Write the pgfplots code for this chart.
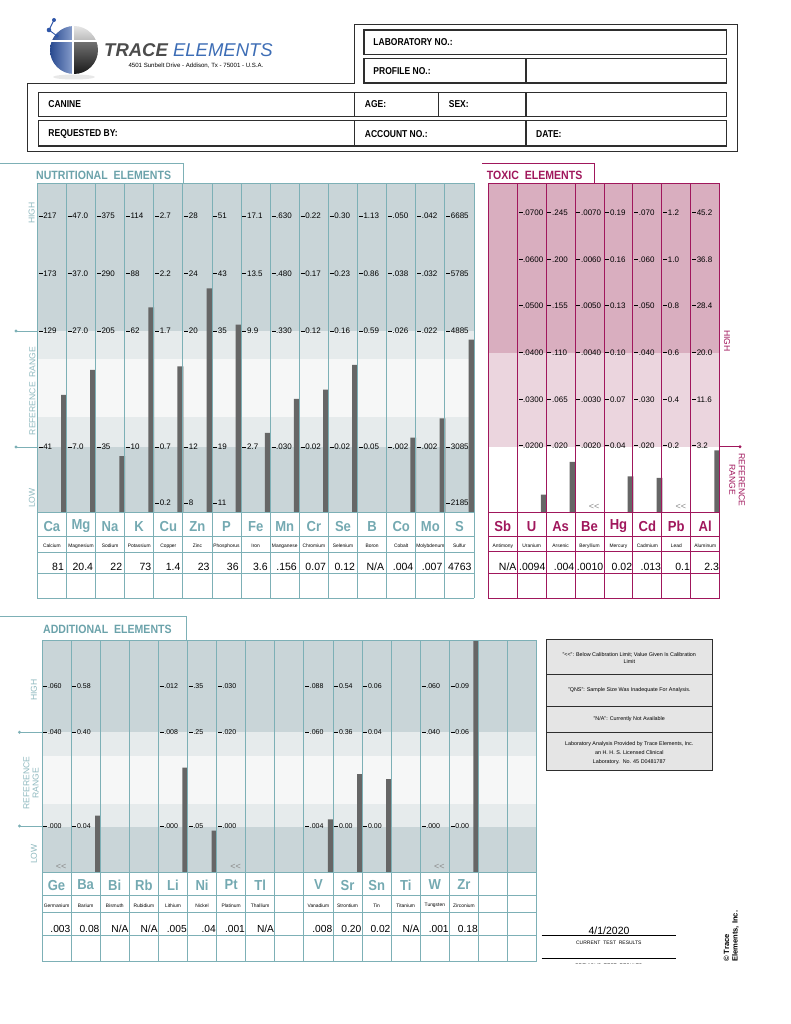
\documentclass[border=0pt]{standalone}
\usepackage{pgfplots}
\pgfplotsset{compat=1.18}
\usepackage{pgfplotstable}
\usepackage{fontspec}
\setmainfont{Liberation Sans}
\definecolor{tline}{HTML}{7DB0B6}
\definecolor{tsym}{HTML}{74A9B1}
\definecolor{tlbl}{HTML}{8FB9BF}
\definecolor{ttab}{HTML}{6BA2AA}
\definecolor{bandD}{HTML}{C9D5D8}
\definecolor{bandL}{HTML}{E6EBEC}
\definecolor{bandW}{HTML}{F6F7F7}
\definecolor{barC}{HTML}{666666}
\definecolor{mag}{HTML}{A0175C}
\definecolor{pinkD}{HTML}{D9AEBF}
\definecolor{pinkL}{HTML}{EBD5DE}
\definecolor{logoblue}{HTML}{2F56A8}
\definecolor{logotxt}{HTML}{3D6DB5}
\definecolor{boxline}{HTML}{2E2E2E}

% value, low-reference tick value, value per tick step
\pgfplotstableread{
idx val lo step
0 81 41 44
1 20.4 7.0 10
2 22 35 85
3 73 10 26
4 1.4 0.7 0.5
5 23 12 4
6 36 19 8
7 3.6 2.7 3.6
8 0.156 0.030 0.15
9 0.07 0.02 0.05
10 0.12 0.02 0.07
12 0.004 0.002 0.012
13 0.007 0.002 0.01
14 4763 3085 900
}\nutdata
\pgfplotstableread{
idx val lo step
1 0.0094 0.0200 0.0100
2 0.004 0.020 0.045
4 0.02 0.04 0.03
5 0.013 0.020 0.010
7 2.3 3.2 8.4
}\toxdata
\pgfplotstableread{
idx val lo step
1 0.08 0.04 0.18
4 0.005 0.000 0.004
5 0.04 0.05 0.10
9 0.008 0.004 0.028
10 0.20 0.00 0.18
11 0.02 0.00 0.02
14 0.18 0.00 0.03
}\adddata

\newcommand\tk[4]{%
  \draw[line width=0.6pt] ({#1+1.3},#2) -- ({#1+5.3},#2);
  \node[anchor=west,inner sep=0pt,font=\fontsize{#4}{#4}\selectfont] at ({#1+5.8},#2) {#3};}

\pgfplotsset{panel/.style={anchor=south west, scale only axis, axis line style={draw=none},
  xtick=\empty, ytick=\empty, ybar, enlargelimits=false, clip=true}}

\begin{document}
\begin{tikzpicture}[x=1pt,y=-1pt]
\path (0,0) rectangle (790,1024);
% ================= HEADER =================
\begin{scope}
\clip (74,50) circle (24);
\shade[left color=logoblue!85!black, right color=logoblue!55!white] (50,26) rectangle (74,74);
\shade[top color=gray!20, bottom color=gray!55] (74,26) rectangle (98,41);
\shade[top color=black!55, bottom color=black!90] (74,41) rectangle (98,74);
\end{scope}
\draw[white, line width=2.2pt] (73,26) -- (73,74);
\draw[white, line width=2.2pt] (50,41) -- (98,41);
\draw[logoblue, line width=0.9pt] (54,20) -- (49,30) -- (57,36);
\fill[logoblue] (54,20) circle (2) (49,30) circle (2.3) (57,36) circle (1.8);
\fill[gray!18] (74,77) ellipse (21 and 2.5);
\node[anchor=base west, inner sep=0pt, font=\fontsize{18.5}{18.5}\selectfont\itshape] at (104,56.5)
  {{\bfseries\color{black!70}TRACE} {\color{logotxt}ELEMENTS}};
\node[font=\fontsize{6.1}{6.1}\selectfont, inner sep=0pt] at (196,66) {4501 Sunbelt Drive - Addison, Tx - 75001 - U.S.A.};

\draw[boxline, line width=1pt] (27.7,83.3) -- (354.7,83.3) -- (354.7,25) -- (737.3,25) -- (737.3,151.7) -- (27.7,151.7) -- cycle;
\begin{scope}[boxline, line width=1.3pt]
\draw (364,30) rectangle (726.7,54.3);
\draw (364,58.7) rectangle (526,83) (526,58.7) rectangle (726.7,83);
\draw (38.3,92.7) rectangle (354.7,116.7) (354.7,92.7) rectangle (438.7,116.7)
      (438.7,92.7) rectangle (526,116.7) (526,92.7) rectangle (726.7,116.7);
\draw (38.3,120.7) rectangle (354.7,146) (354.7,120.7) rectangle (526,146) (526,120.7) rectangle (726.7,146);
\end{scope}
\begin{scope}[every node/.style={anchor=west, inner sep=0pt, xscale=0.85, font=\fontsize{10}{10}\selectfont\bfseries}]
\node at (373.3,42.5) {LABORATORY NO.:};
\node at (373.3,71) {PROFILE NO.:};
\node at (48.3,104.5) {CANINE};
\node at (364.7,104.5) {AGE:};
\node at (448.7,104.5) {SEX:};
\node at (48.3,134) {REQUESTED BY:};
\node at (364.7,134) {ACCOUNT NO.:};
\node at (536,134) {DATE:};
\end{scope}

% ================= BACKGROUND BANDS =================
\fill[bandD] (37.3,183.3) rectangle (474,331);
\fill[bandL] (37.3,331) rectangle (474,359);
\fill[bandW] (37.3,359) rectangle (474,417);
\fill[bandL] (37.3,417) rectangle (474,447);
\fill[bandD] (37.3,447) rectangle (474,512.3);
\fill[pinkD] (488.3,183.3) rectangle (719.7,352.5);
\fill[pinkL] (488.3,352.5) rectangle (719.7,446.7);
\fill[bandD] (42,640.7) rectangle (536.7,732.3);
\fill[bandL] (42,732.3) rectangle (536.7,756);
\fill[bandW] (42,756) rectangle (536.7,804);
\fill[bandL] (42,804) rectangle (536.7,826.5);
\fill[bandD] (42,826.5) rectangle (536.7,872.3);

% ================= BARS =================
\begin{axis}[panel, at={(37.3pt,-512.3pt)}, width=436.7pt, height=329pt,
  xmin=0, xmax=15, ymin=0, ymax=5.695, bar width=0.2]
\addplot[fill=barC, draw=none] table[x expr=\thisrow{idx}+0.915,
  y expr=(\thisrow{val}-\thisrow{lo})/\thisrow{step}+1.125] {\nutdata};
\end{axis}
\begin{axis}[panel, at={(488.3pt,-512.3pt)}, width=231.4pt, height=329pt,
  xmin=0, xmax=8, ymin=0, ymax=7.06, bar width=0.2]
\addplot[fill=barC, draw=none] table[x expr=\thisrow{idx}+0.915,
  y expr=(\thisrow{val}-\thisrow{lo})/\thisrow{step}+1.438] {\toxdata};
\end{axis}
\begin{axis}[panel, at={(42pt,-872.3pt)}, width=494.7pt, height=231.6pt,
  xmin=0, xmax=17, ymin=0, ymax=4.949, bar width=0.18]
\addplot[fill=barC, draw=none] table[x expr=\thisrow{idx}+0.915,
  y expr=(\thisrow{val}-\thisrow{lo})/\thisrow{step}+0.989] {\adddata};
\end{axis}

% ================= GRID LINES =================
\begin{scope}[tline, line width=0.9pt]
\foreach \k in {0,...,15} \draw ({37.3+29.113*\k},183.3) -- ({37.3+29.113*\k},598);
\foreach \yy in {183.3,512.3,536,552,573.3,598} \draw (37.3,\yy) -- (474,\yy);
\draw (0,163.3) -- (183.3,163.3) -- (183.3,183.3);
\foreach \k in {0,...,17} \draw ({42+29.1*\k},640.7) -- ({42+29.1*\k},961.7);
\foreach \yy in {640.7,872.3,895.7,912.3,935.7,961.7} \draw (42,\yy) -- (536.7,\yy);
\draw (0,616) -- (186,616) -- (186,640.7);
\draw (16,331) -- (37.3,331) (16,447) -- (37.3,447);
\fill (16,331) circle (1.6) (16,447) circle (1.6);
\draw (19.5,732.3) -- (42,732.3) (19.5,826) -- (42,826);
\fill (19.5,732.3) circle (1.6) (19.5,826) circle (1.6);
\end{scope}
\begin{scope}[mag, line width=0.9pt]
\foreach \k in {0,...,8} \draw ({488.3+28.925*\k},183.3) -- ({488.3+28.925*\k},598.3);
\foreach \yy in {183.3,512.3,536,551.7,573.3,598.3} \draw (488.3,\yy) -- (719.7,\yy);
\draw (482.3,163.3) -- (594.3,163.3) -- (594.3,183.3);
\draw (719.7,446.7) -- (740,446.7);
\fill (740,446.7) circle (1.6);
\end{scope}

% ================= TITLES / SIDE LABELS =================
\node[anchor=west, inner sep=0pt, xscale=0.88, text=ttab, font=\fontsize{12}{12}\selectfont\bfseries] at (36,175) {NUTRITIONAL\ \ ELEMENTS};
\node[anchor=west, inner sep=0pt, xscale=0.88, text=mag, font=\fontsize{12}{12}\selectfont\bfseries] at (486.7,175) {TOXIC\ \ ELEMENTS};
\node[anchor=west, inner sep=0pt, xscale=0.88, text=ttab, font=\fontsize{12}{12}\selectfont\bfseries] at (43,629.3) {ADDITIONAL\ \ ELEMENTS};
\begin{scope}[every node/.style={text=tlbl, font=\fontsize{8.6}{9.4}\selectfont, inner sep=0pt, rotate=90, align=center}]
\node at (31.7,213) {HIGH};
\node at (32.3,391) {REFERENCE\ \ RANGE};
\node at (32,498) {LOW};
\node at (34,690) {HIGH};
\node at (31,783) {REFERENCE\\RANGE};
\node at (34,854) {LOW};
\end{scope}
\node[text=mag, font=\fontsize{8.6}{9}\selectfont, inner sep=0pt, rotate=-90] at (727,341) {HIGH};
\node[text=mag, font=\fontsize{8.6}{9.6}\selectfont, inner sep=0pt, rotate=-90, align=center] at (737,480) {REFERENCE\\RANGE};

% ================= NUTRITIONAL TEXT =================
\foreach \a/\b/\c/\d [count=\k from 0] in {217/173/129/41, 47.0/37.0/27.0/7.0, 375/290/205/35, 114/88/62/10,
  2.7/2.2/1.7/0.7, 28/24/20/12, 51/43/35/19, 17.1/13.5/9.9/2.7, .630/.480/.330/.030, 0.22/0.17/0.12/0.02,
  0.30/0.23/0.16/0.02, 1.13/0.86/0.59/0.05, .050/.038/.026/.002, .042/.032/.022/.002, 6685/5785/4885/3085}{
  \pgfmathsetmacro\xl{37.3+29.113*\k}
  \tk{\xl}{216}{\a}{8}
  \tk{\xl}{273.5}{\b}{8}
  \tk{\xl}{331}{\c}{8}
  \tk{\xl}{447}{\d}{8}
}
\foreach \k/\e in {4/0.2, 5/8, 6/11, 14/2185}{
  \pgfmathsetmacro\xl{37.3+29.113*\k}
  \tk{\xl}{503}{\e}{8}
}
\foreach \s/\n/\v [count=\k from 0] in {Ca/Calcium/81, Mg/Magnesium/20.4, Na/Sodium/22, K/Potassium/73,
  Cu/Copper/1.4, Zn/Zinc/23, P/Phosphorus/36, Fe/Iron/3.6, Mn/Manganese/.156, Cr/Chromium/0.07,
  Se/Selenium/0.12, B/Boron/{N/A}, Co/Cobalt/.004, Mo/Molybdenum/.007, S/Sulfur/4763}{
  \pgfmathsetmacro\xc{37.3+29.113*(\k+0.5)}
  \pgfmathsetmacro\xr{37.3+29.113*(\k+1)-2.3}
  \node[font=\fontsize{14.5}{14.5}\selectfont\bfseries, text=tsym, xscale=0.9, inner sep=0pt] at (\xc,526.5) {\s};
  \node[font=\fontsize{4.9}{5}\selectfont, inner sep=0pt] at (\xc,546) {\n};
  \node[anchor=east, font=\fontsize{10.5}{10.5}\selectfont, inner sep=0pt] at (\xr,566.5) {\v};
}

% ================= TOXIC TEXT =================
\foreach \a/\b/\c/\d/\e/\f [count=\k from 1] in {.0700/.0600/.0500/.0400/.0300/.0200, .245/.200/.155/.110/.065/.020,
  .0070/.0060/.0050/.0040/.0030/.0020, 0.19/0.16/0.13/0.10/0.07/0.04, .070/.060/.050/.040/.030/.020,
  1.2/1.0/0.8/0.6/0.4/0.2, 45.2/36.8/28.4/20.0/11.6/3.2}{
  \pgfmathsetmacro\xl{488.3+28.925*\k}
  \tk{\xl}{212.3}{\a}{8}
  \tk{\xl}{259.3}{\b}{8}
  \tk{\xl}{305.7}{\c}{8}
  \tk{\xl}{352.7}{\d}{8}
  \tk{\xl}{399.3}{\e}{8}
  \tk{\xl}{445.3}{\f}{8}
}
\foreach \s/\n/\v [count=\k from 0] in {Sb/Antimony/{N/A}, U/Uranium/.0094, As/Arsenic/.004, Be/Beryllium/.0010,
  Hg/Mercury/0.02, Cd/Cadmium/.013, Pb/Lead/0.1, Al/Aluminum/2.3}{
  \pgfmathsetmacro\xc{488.3+28.925*(\k+0.5)}
  \pgfmathsetmacro\xr{488.3+28.925*(\k+1)-0.6}
  \node[font=\fontsize{14.5}{14.5}\selectfont\bfseries, text=mag, xscale=0.9, inner sep=0pt] at (\xc,526.5) {\s};
  \node[font=\fontsize{4.9}{5}\selectfont, inner sep=0pt] at (\xc,546) {\n};
  \node[anchor=east, font=\fontsize{10.5}{10.5}\selectfont, inner sep=0pt] at (\xr,566.5) {\v};
}
\foreach \k in {3,6}{
  \pgfmathsetmacro\xc{488.3+28.925*(\k+0.5)+4.5}
  \node[font=\fontsize{9}{9}\selectfont, text=black!45, inner sep=0pt] at (\xc,507) {<{}<};
}

% ================= ADDITIONAL TEXT =================
\foreach \k/\a/\b/\c in {0/.060/.040/.000, 1/0.58/0.40/0.04, 4/.012/.008/.000, 5/.35/.25/.05, 6/.030/.020/.000,
  9/.088/.060/.004, 10/0.54/0.36/0.00, 11/0.06/0.04/0.00, 13/.060/.040/.000, 14/0.09/0.06/0.00}{
  \pgfmathsetmacro\xl{42+29.1*\k}
  \tk{\xl}{686}{\a}{7}
  \tk{\xl}{732.3}{\b}{7}
  \tk{\xl}{826}{\c}{7}
}
\foreach \k/\s/\n/\v in {0/Ge/Germanium/.003, 1/Ba/Barium/0.08, 2/Bi/Bismuth/{N/A}, 3/Rb/Rubidium/{N/A},
  4/Li/Lithium/.005, 5/Ni/Nickel/.04, 6/Pt/Platinum/.001, 7/Tl/Thallium/{N/A}, 9/V/Vanadium/.008,
  10/Sr/Strontium/0.20, 11/Sn/Tin/0.02, 12/Ti/Titanium/{N/A}, 13/W/Tungsten/.001, 14/Zr/Zirconium/0.18}{
  \pgfmathsetmacro\xc{42+29.1*(\k+0.5)}
  \pgfmathsetmacro\xr{42+29.1*(\k+1)-0.6}
  \node[font=\fontsize{14.5}{14.5}\selectfont\bfseries, text=tsym, xscale=0.9, inner sep=0pt] at (\xc,885) {\s};
  \node[font=\fontsize{4.9}{5}\selectfont, inner sep=0pt] at (\xc,905.5) {\n};
  \node[anchor=east, font=\fontsize{10.2}{10.2}\selectfont, inner sep=0pt] at (\xr,929.3) {\v};
}
\foreach \k in {0,6,13}{
  \pgfmathsetmacro\xc{42+29.1*(\k+0.5)+4.5}
  \node[font=\fontsize{9}{9}\selectfont, text=black!45, inner sep=0pt] at (\xc,866.7) {<{}<};
}

% ================= LEGEND BOX =================
\fill[black!10] (546.7,639.3) rectangle (712,770.7);
\draw[boxline, line width=1pt] (546.7,639.3) rectangle (712,770.7);
\draw[boxline, line width=0.8pt] (546.7,674.3) -- (712,674.3) (546.7,706.3) -- (712,706.3) (546.7,732) -- (712,732);
\begin{scope}[every node/.style={font=\fontsize{5.4}{7}\selectfont, align=center, inner sep=0pt}]
\node at (629.3,658) {"<{}<": Below Calibration Limit; Value Given Is Calibration\\Limit};
\node at (629.3,690.3) {"QNS": Sample Size Was Inadequate For Analysis.};
\node at (629.3,719.2) {"N/A": Currently Not Available};
\node[font=\fontsize{5.4}{9}\selectfont] at (629.3,752.7) {Laboratory Analysis Provided by Trace Elements, Inc.\\an H. H. S. Licensed Clinical\\Laboratory.\ \ No. 45 D0481787};
\end{scope}

% ================= DATE / FOOTER =================
\node[anchor=base, inner sep=0pt, font=\fontsize{10.5}{10.5}\selectfont] at (609,934.5) {4/1/2020};
\draw[line width=1pt] (541.7,935) -- (676,935) (541.7,958.3) -- (676,958.3);
\node[inner sep=0pt, font=\fontsize{5}{5}\selectfont] at (608.8,942.5) {CURRENT\ \ TEST\ \ RESULTS};
\begin{scope}
\clip (530,960) rectangle (700,963.3);
\node[inner sep=0pt, font=\fontsize{5}{5}\selectfont] at (608.8,965.5) {PREVIOUS\ \ TEST\ \ RESULTS};
\end{scope}
\node[anchor=north west, rotate=90, inner sep=0pt, align=left, font=\fontsize{7.6}{8.6}\selectfont\bfseries] at (723.5,962) {\textcopyright\ Trace\\Elements, Inc.};

\pgfresetboundingbox
\path[use as bounding box] (0,0) rectangle (790,1024);
\end{tikzpicture}
\end{document}
